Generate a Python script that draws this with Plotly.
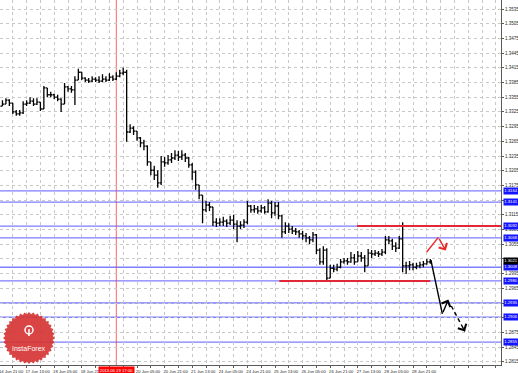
import numpy as np
import plotly.graph_objects as go

# ---- data (2-hour bars, x = trading hours since 14 Jun 21:00) ----
bar_hours = list(range(0, 252, 2))
close = [1.3337,1.3341,1.3349,1.3343,1.3325,1.3321,1.3323,1.3341,1.3343,1.3347,
1.3341,1.3345,1.3331,1.3374,1.3360,1.3360,1.3355,1.3351,1.3341,1.3376,
1.3372,1.3370,1.3390,1.3406,1.3394,1.3390,1.3388,1.3392,1.3390,1.3388,
1.3392,1.3390,1.3396,1.3392,1.3398,1.3404,1.3406,1.3284,1.3292,1.3286,
1.3272,1.3262,1.3255,1.3223,1.3206,1.3196,1.3180,1.3223,1.3221,1.3227,
1.3231,1.3237,1.3233,1.3237,1.3231,1.3217,1.3202,1.3176,1.3155,1.3125,
1.3135,1.3131,1.3100,1.3098,1.3100,1.3102,1.3098,1.3104,1.3096,1.3092,
1.3094,1.3100,1.3133,1.3125,1.3127,1.3123,1.3129,1.3121,1.3139,1.3119,
1.3133,1.3113,1.3080,1.3092,1.3086,1.3082,1.3080,1.3076,1.3072,1.3068,
1.3064,1.3074,1.3043,1.3019,1.3043,1.2986,1.3006,1.3004,1.3008,1.3019,
1.3021,1.3019,1.3027,1.3019,1.3031,1.3027,1.3011,1.3037,1.3035,1.3037,
1.3035,1.3039,1.3064,1.3062,1.3051,1.3047,1.3066,1.3011,1.3011,1.3013,
1.3008,1.3011,1.3013,1.3015,1.3019,1.3021]
high = [1.3345,1.3349,1.3353,1.3351,1.3341,1.3329,1.3329,1.3347,1.3349,1.3355,
1.3353,1.3353,1.3341,1.3378,1.3370,1.3366,1.3362,1.3360,1.3353,1.3384,
1.3378,1.3378,1.3398,1.3413,1.3404,1.3396,1.3394,1.3398,1.3396,1.3398,
1.3402,1.3398,1.3404,1.3400,1.3406,1.3411,1.3415,1.3411,1.3300,1.3296,
1.3282,1.3274,1.3268,1.3257,1.3223,1.3215,1.3206,1.3235,1.3233,1.3237,
1.3241,1.3247,1.3245,1.3247,1.3241,1.3233,1.3221,1.3206,1.3174,1.3155,
1.3143,1.3141,1.3127,1.3108,1.3108,1.3111,1.3106,1.3113,1.3115,1.3104,
1.3102,1.3106,1.3143,1.3135,1.3135,1.3133,1.3135,1.3133,1.3147,1.3143,
1.3141,1.3141,1.3115,1.3100,1.3098,1.3092,1.3088,1.3084,1.3082,1.3078,
1.3072,1.3080,1.3076,1.3047,1.3051,1.3047,1.3013,1.3013,1.3015,1.3025,
1.3027,1.3027,1.3039,1.3035,1.3041,1.3039,1.3033,1.3045,1.3043,1.3043,
1.3041,1.3045,1.3072,1.3072,1.3066,1.3059,1.3072,1.3100,1.3019,1.3021,
1.3017,1.3017,1.3019,1.3021,1.3025,1.3025]
low = [1.3333,1.3337,1.3343,1.3337,1.3321,1.3317,1.3317,1.3321,1.3337,1.3341,
1.3337,1.3339,1.3327,1.3331,1.3355,1.3355,1.3351,1.3347,1.3325,1.3353,
1.3366,1.3364,1.3339,1.3394,1.3390,1.3386,1.3384,1.3386,1.3386,1.3384,
1.3386,1.3386,1.3388,1.3388,1.3390,1.3396,1.3400,1.3264,1.3282,1.3278,
1.3266,1.3253,1.3247,1.3215,1.3196,1.3186,1.3170,1.3176,1.3213,1.3217,
1.3221,1.3227,1.3225,1.3227,1.3223,1.3211,1.3186,1.3166,1.3147,1.3098,
1.3121,1.3123,1.3092,1.3090,1.3092,1.3092,1.3090,1.3094,1.3086,1.3059,
1.3086,1.3088,1.3096,1.3119,1.3119,1.3117,1.3119,1.3117,1.3119,1.3108,
1.3113,1.3106,1.3068,1.3076,1.3078,1.3076,1.3074,1.3068,1.3064,1.3059,
1.3055,1.3059,1.3035,1.3013,1.3013,1.2980,1.2998,1.2998,1.3000,1.3006,
1.3015,1.3013,1.3017,1.3013,1.3019,1.3019,1.2998,1.3027,1.3027,1.3031,
1.3029,1.3031,1.3035,1.3055,1.3043,1.3039,1.3045,1.2998,1.2994,1.3002,
1.3002,1.3004,1.3006,1.3008,1.3013,1.3015]
first_open = 1.3339

first_date_label = "14 Jun 21:00"
date_labels = ["17 Jun 13:00","18 Jun 05:00","18 Jun 21:00","",
               "20 Jun 05:00","20 Jun 21:00","21 Jun 13:00","24 Jun 05:00","24 Jun 21:00",
               "25 Jun 13:00","26 Jun 05:00","26 Jun 21:00","27 Jun 13:00","28 Jun 05:00",
               "28 Jun 21:00"]
date_label_hours = [16 * (k + 1) for k in range(len(date_labels))]
price_ticks = [round(1.3535 - 0.003 * k, 4) for k in range(25)]

blue_levels = [1.3164, 1.3141, 1.3092, 1.3068, 1.3008, 1.2980, 1.2935, 1.2906, 1.2855]
red_level_prices = [1.3092, 1.2980]
red_level_start = [207.5, 162.5]
red_level_end = [291.0, 250.0]
marker_hour = 68
marker_label = "2013.06.19 17:00"
current_price = 1.3021

red_arrow_h = [247.9, 254.7, 259.0]
red_arrow_p = [1.3039, 1.3069, 1.3042]
black_arrow_h = [250.4, 257.0, 260.5]
black_arrow_p = [1.3022, 1.2913, 1.2942]
black_dash_h = [262.2, 270.1]
black_dash_p = [1.2929, 1.2877]

X_RANGE = [0.58, 291.0]
Y_RANGE = [1.28085, 1.35534]
FONT = "Liberation Sans"

opens = [first_open] + close[:-1]
hi = [max(h, o, c) for h, o, c in zip(high, opens, close)]
lo = [min(l, o, c) for l, o, c in zip(low, opens, close)]

fig = go.Figure()
fig.add_trace(go.Ohlc(x=bar_hours, open=opens, high=hi, low=lo, close=close,
                      increasing_line_color="black", decreasing_line_color="black",
                      line_width=1.3, tickwidth=0.45, hoverinfo="skip", showlegend=False))

shapes = []
for lv in blue_levels:
    shapes.append(dict(type="line", xref="paper", x0=0, x1=1, yref="y", y0=lv, y1=lv,
                       line=dict(color="rgb(125,125,255)", width=1.3), layer="between"))
for p, s, e in zip(red_level_prices, red_level_start, red_level_end):
    shapes.append(dict(type="line", xref="x", x0=s, x1=e, yref="y", y0=p, y1=p,
                       line=dict(color="rgb(225,40,55)", width=2), layer="above"))
shapes.append(dict(type="line", xref="x", x0=marker_hour, x1=marker_hour, yref="paper", y0=0, y1=1,
                   line=dict(color="rgba(255,60,60,0.8)", width=1), layer="between"))

# InstaForex badge (decorative, paper coords from pixel positions)
PW, PH = 501.0, 365.0
def xp(px): return px / PW
def yp(py): return 1 - py / PH
cx, cy = 29, 338
pts = []
n = 72
for k in range(n):
    a = 2 * np.pi * k / n
    r = 26 if k % 2 == 0 else 23.8
    pts.append((xp(cx + r * np.cos(a)), yp(cy + r * np.sin(a))))
path = "M " + " L ".join(f"{x:.5f},{y:.5f}" for x, y in pts) + " Z"
shapes.append(dict(type="path", xref="paper", yref="paper", path=path,
                   fillcolor="rgba(214,52,52,0.92)", line=dict(width=0), layer="above"))
shapes.append(dict(type="circle", xref="paper", yref="paper",
                   x0=xp(cx - 4), x1=xp(cx + 4), y0=yp(cy - 12), y1=yp(cy - 4),
                   line=dict(color="white", width=1.5), layer="above"))
shapes.append(dict(type="line", xref="paper", yref="paper",
                   x0=xp(cx), x1=xp(cx), y0=yp(cy - 9), y1=yp(cy - 2),
                   line=dict(color="white", width=1.5), layer="above"))

# trend arrows
fig.add_trace(go.Scatter(x=red_arrow_h[:2], y=red_arrow_p[:2], mode="lines",
                         line=dict(color="rgb(235,40,40)", width=1.4), hoverinfo="skip", showlegend=False))
fig.add_trace(go.Scatter(x=black_arrow_h[:2], y=black_arrow_p[:2], mode="lines",
                         line=dict(color="black", width=1.4), hoverinfo="skip", showlegend=False))
fig.add_trace(go.Scatter(x=black_dash_h, y=black_dash_p, mode="lines",
                         line=dict(color="black", width=1.4, dash="4px,3px"), hoverinfo="skip", showlegend=False))

annotations = []
annotations.append(dict(x=red_arrow_h[2], y=red_arrow_p[2], ax=red_arrow_h[1], ay=red_arrow_p[1],
                        xref="x", yref="y", axref="x", ayref="y", text="", showarrow=True,
                        arrowhead=4, arrowsize=1.3, arrowwidth=1.4, arrowcolor="rgb(235,40,40)"))
annotations.append(dict(x=black_arrow_h[2], y=black_arrow_p[2], ax=black_arrow_h[1], ay=black_arrow_p[1],
                        xref="x", yref="y", axref="x", ayref="y", text="", showarrow=True,
                        arrowhead=4, arrowsize=1.3, arrowwidth=1.4, arrowcolor="black"))
annotations.append(dict(x=black_dash_h[1], y=black_dash_p[1],
                        ax=black_dash_h[1] - 0.2 * (black_dash_h[1] - black_dash_h[0]),
                        ay=black_dash_p[1] - 0.2 * (black_dash_p[1] - black_dash_p[0]),
                        xref="x", yref="y", axref="x", ayref="y", text="", showarrow=True,
                        arrowhead=4, arrowsize=1.3, arrowwidth=1.4, arrowcolor="black"))

for lv in blue_levels:
    annotations.append(dict(x=1, xref="paper", xanchor="left", xshift=2, y=lv, yref="y",
                            text=f"{lv:.4f}", showarrow=False, bgcolor="rgb(20,20,255)",
                            font=dict(color="white", size=4.2, family=FONT), borderpad=0.3))
annotations.append(dict(x=1, xref="paper", xanchor="left", xshift=2, y=current_price, yref="y",
                        text=f"{current_price:.4f}", showarrow=False, bgcolor="black",
                        font=dict(color="white", size=4.2, family=FONT), borderpad=0.3))
annotations.append(dict(x=marker_hour, xref="x", y=0, yref="paper", yanchor="top", yshift=-1,
                        text=marker_label, showarrow=False, bgcolor="rgb(255,0,0)",
                        font=dict(color="white", size=4.2, family=FONT), borderpad=0.8))
annotations.append(dict(x=0, xref="paper", xanchor="left", xshift=-3, y=0, yref="paper",
                        yanchor="top", yshift=-2, text=first_date_label, showarrow=False,
                        font=dict(color="rgb(40,40,40)", size=4.2, family=FONT)))
annotations.append(dict(x=xp(cx), xref="paper", xanchor="center", y=yp(cy + 10), yref="paper",
                        yanchor="middle", text="InstaForex", showarrow=False,
                        font=dict(color="white", size=7, family=FONT)))

xtickvals = list(range(8, 292, 8))
label_map = dict(zip(date_label_hours, date_labels))
xticktext = [label_map.get(h, "") for h in xtickvals]

# price tick labels hidden where a level box covers them
covered = blue_levels + [current_price]
yticktext = ["" if any(abs(v - c) < 0.0006 for c in covered) else f"{v:.4f}" for v in price_ticks]

fig.update_layout(
    width=518, height=373,
    margin=dict(l=0, r=17, t=0, b=8, autoexpand=False),
    paper_bgcolor="white", plot_bgcolor="white",
    shapes=shapes, annotations=annotations,
    showlegend=False,
    xaxis=dict(range=X_RANGE, tickvals=xtickvals, ticktext=xticktext, tickangle=0,
               automargin=False,
               showgrid=True, gridcolor="rgb(200,200,200)", griddash="dot", gridwidth=1,
               showline=True, linecolor="rgb(90,90,90)", linewidth=1, mirror=False,
               ticks="outside", ticklen=2, tickcolor="rgb(90,90,90)",
               ticklabelshift=11, ticklabelstandoff=0,
               tickfont=dict(size=4.2, family=FONT, color="rgb(40,40,40)"),
               rangeslider=dict(visible=False), zeroline=False, fixedrange=True),
    yaxis=dict(range=Y_RANGE, side="right", tickvals=price_ticks, automargin=False,
               ticktext=yticktext,
               showgrid=True, gridcolor="rgb(200,200,200)", griddash="dot", gridwidth=1,
               showline=True, linecolor="rgb(90,90,90)", linewidth=1,
               ticks="outside", ticklen=2, tickcolor="rgb(90,90,90)",
               tickfont=dict(size=4.5, family=FONT, color="rgb(40,40,40)"),
               zeroline=False, fixedrange=True),
)

fig.write_html("out.html")
